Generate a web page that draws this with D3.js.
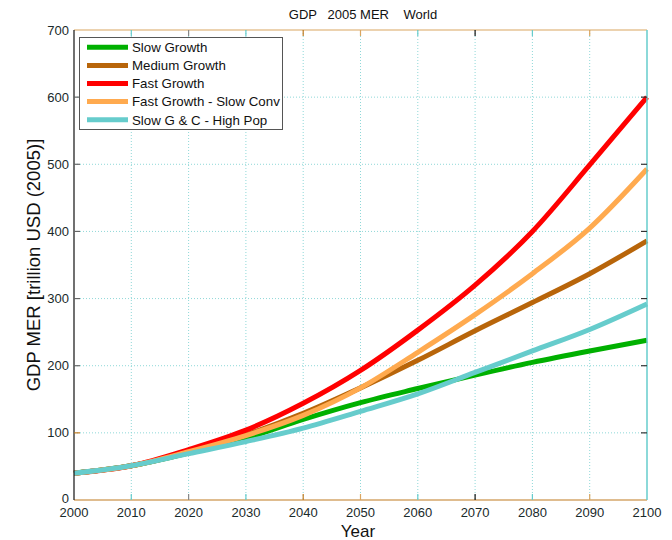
<!DOCTYPE html>
<html><head><meta charset="utf-8">
<script src="https://cdn.jsdelivr.net/npm/d3@7"></script>
<style>body{margin:0;background:#fff;} text{font-family:"Liberation Sans",Arial,sans-serif;}</style>
</head><body>
<svg id="c" width="672" height="540"></svg>
<script>
const years = [2000,2010,2020,2030,2040,2050,2060,2070,2080,2090,2100];
const slowGrowth   = [40,51,70,92,120,145,166,186,205,222,238];
const mediumGrowth = [40,51,71,97,129,167,208,252,294,337,386];
const fastGrowth   = [40,51,75,104,144,193,253,320,400,499,600];
const fastSlowConv = [40,51,72,96,126,167,220,276,337,405,493];
const slowGCHighPop= [40,51,69,87,107,132,158,190,222,254,292];
const seriesNames = ["Slow Growth","Medium Growth","Fast Growth","Fast Growth - Slow Conv","Slow G & C - High Pop"];
const seriesColors = ["#00b000","#b8650a","#ff0000","#ffaa4f","#66cccc"];
const xTicks = [2000,2010,2020,2030,2040,2050,2060,2070,2080,2090,2100];
const yTicks = [0,100,200,300,400,500,600,700];

const svg = d3.select("#c");
const L=74, R=647, T=30, B=500;
const x = d3.scaleLinear().domain([2000,2100]).range([L,R]);
const y = d3.scaleLinear().domain([0,700]).range([B,T]);

// grid
const g = svg.append("g");
g.selectAll(".gx").data(xTicks.slice(1,-1)).enter().append("line")
 .attr("x1",d=>x(d)).attr("x2",d=>x(d)).attr("y1",T).attr("y2",B)
 .attr("stroke","#8fd8d8").attr("stroke-width",1).attr("stroke-dasharray","1,2");
g.selectAll(".gy").data(yTicks.slice(1,-1)).enter().append("line")
 .attr("y1",d=>y(d)).attr("y2",d=>y(d)).attr("x1",L).attr("x2",R)
 .attr("stroke","#8fd8d8").attr("stroke-width",1).attr("stroke-dasharray","1,2");

// lines
const allSeries=[slowGrowth,mediumGrowth,fastGrowth,fastSlowConv,slowGCHighPop];
const line = d3.line().x((d,i)=>x(years[i])).y(d=>y(d)).curve(d3.curveMonotoneX);
allSeries.forEach((s,i)=>{
  svg.append("path").datum(s).attr("d",line).attr("fill","none")
   .attr("stroke",seriesColors[i]).attr("stroke-width",5).attr("stroke-linejoin","round");
});

// axes box
svg.append("line").attr("x1",L).attr("x2",R).attr("y1",B).attr("y2",B).attr("stroke","#c07a20").attr("stroke-width",1.2);
svg.append("line").attr("x1",L).attr("x2",R).attr("y1",T).attr("y2",T).attr("stroke","#daa560").attr("stroke-width",1.2);
svg.append("line").attr("x1",L).attr("x2",L).attr("y1",T).attr("y2",B).attr("stroke","#111").attr("stroke-width",1.2);
svg.append("line").attr("x1",R).attr("x2",R).attr("y1",T).attr("y2",B).attr("stroke","#66cccc").attr("stroke-width",1.5);

const tickCols=["#66cccc","#888","#66cccc","#c07a20","#daa560","#66cccc","#111","#66cccc","#daa560"];
xTicks.slice(1,-1).forEach((d,i)=>{
  svg.append("line").attr("x1",x(d)).attr("x2",x(d)).attr("y1",B).attr("y2",B-6).attr("stroke",tickCols[i]).attr("stroke-width",1.2);
  svg.append("line").attr("x1",x(d)).attr("x2",x(d)).attr("y1",T).attr("y2",T+6).attr("stroke",tickCols[i]).attr("stroke-width",1.2);
});
yTicks.slice(1,-1).forEach((d,i)=>{
  svg.append("line").attr("x1",L).attr("x2",L+6).attr("y1",y(d)).attr("y2",y(d)).attr("stroke",i==0?"#c07a20":"#666").attr("stroke-width",1.2);
  svg.append("line").attr("x1",R).attr("x2",R-6).attr("y1",y(d)).attr("y2",y(d)).attr("stroke","#333").attr("stroke-width",1.2);
});

// tick labels
svg.selectAll(".xl").data(xTicks).enter().append("text")
 .attr("x",d=>x(d)).attr("y",B+17).attr("text-anchor","middle").attr("font-size",13).attr("fill","#1a2a2a").text(d=>d);
svg.selectAll(".yl").data(yTicks).enter().append("text")
 .attr("x",L-5).attr("y",d=>y(d)+(d===0?3:4.5)).attr("text-anchor","end").attr("font-size",13).attr("fill","#1a2a2a").text(d=>d);

// titles
svg.append("text").attr("x",363).attr("y",19).attr("text-anchor","middle").attr("font-size",13).attr("fill","#111")
 .style("white-space","pre").text("GDP   2005 MER    World");
svg.append("text").attr("x",358).attr("y",537).attr("text-anchor","middle").attr("font-size",17).attr("fill","#111").text("Year");
svg.append("text").attr("transform","translate(40,265) rotate(-90)").attr("text-anchor","middle").attr("font-size",18.5).attr("fill","#111").text("GDP MER [trillion USD (2005)]");

// legend
const lg = svg.append("g");
lg.append("rect").attr("x",79.5).attr("y",37.5).attr("width",203).attr("height",92).attr("fill","#fff").attr("stroke","#555").attr("stroke-width",1);
seriesNames.forEach((n,i)=>{
  const yy = 47.3 + i*18.1;
  lg.append("line").attr("x1",87).attr("x2",128).attr("y1",yy).attr("y2",yy).attr("stroke",seriesColors[i]).attr("stroke-width",5);
  lg.append("text").attr("x",132).attr("y",yy+4.8).attr("font-size",13.3).attr("fill","#111").text(n);
});
</script>
</body></html>
